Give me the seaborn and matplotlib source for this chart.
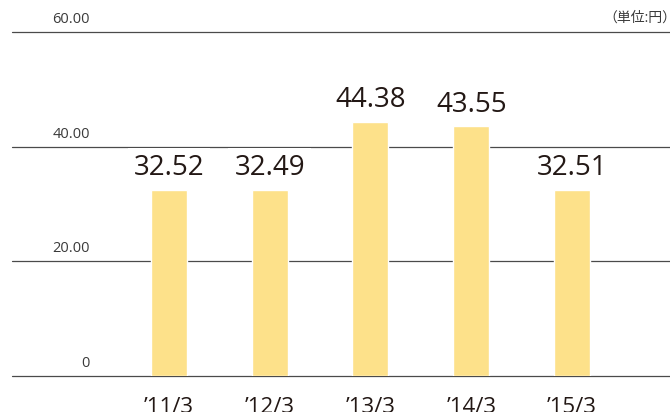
import matplotlib
matplotlib.use("Agg")
import matplotlib.pyplot as plt
import matplotlib.transforms as mtransforms
import seaborn as sns
import pandas as pd

categories = ["’11/3", "’12/3", "’13/3", "’14/3", "’15/3"]
values = [32.52, 32.49, 44.38, 43.55, 32.51]
yticks = [0, 20, 40, 60]
ytick_labels = ["0", "20.00", "40.00", "60.00"]
unit_label = "（単位:円）"

sns.set_style("white")
plt.rcParams["font.family"] = ["Open Sans", "Noto Sans CJK JP", "DejaVu Sans"]

df = pd.DataFrame({"cat": categories, "val": values})

fig = plt.figure(figsize=(6.7, 4.12), dpi=100)
ax = fig.add_axes([12 / 670, 1 - 375.7 / 412, 658 / 670, (375.7 - 32.3) / 412])

sns.barplot(data=df, x="cat", y="val", order=categories, color="#FDE18A",
            saturation=1, width=0.357, ax=ax, zorder=3)

ax.set_ylim(0, 60)
ax.set_xlim(-1.558, 4.973)
for s in ax.spines.values():
    s.set_visible(False)
ax.set_xlabel("")
ax.set_ylabel("")
ax.set_yticks([])
ax.tick_params(axis="x", length=0, pad=15, labelsize=16, labelcolor="#231815")

for yv in yticks:
    ax.axhline(yv, color="#4a4a4a", lw=0.9, zorder=1, clip_on=False)

trans = mtransforms.blended_transform_factory(ax.transAxes, ax.transData)
for yv, lab in zip(yticks, ytick_labels):
    ax.annotate(lab, xy=((90 - 12) / 658, yv), xycoords=trans,
                xytext=(0, 3.5), textcoords="offset points",
                ha="right", va="bottom", fontsize=10.5, color="#3a3a3a")

anns = ax.bar_label(ax.containers[0], labels=[f"{v:.2f}" for v in values],
                    padding=5.5, fontsize=20, color="#231815", zorder=4)
for a in anns[:2]:
    a.set_bbox(dict(boxstyle="square,pad=0.22", fc="white", ec="none"))

fig.text(1.0 + 6 / 670, 1 - 22 / 412, unit_label, ha="right", va="baseline",
         fontsize=10, color="#3a3a3a")

fig.savefig("out.png", dpi=100)
